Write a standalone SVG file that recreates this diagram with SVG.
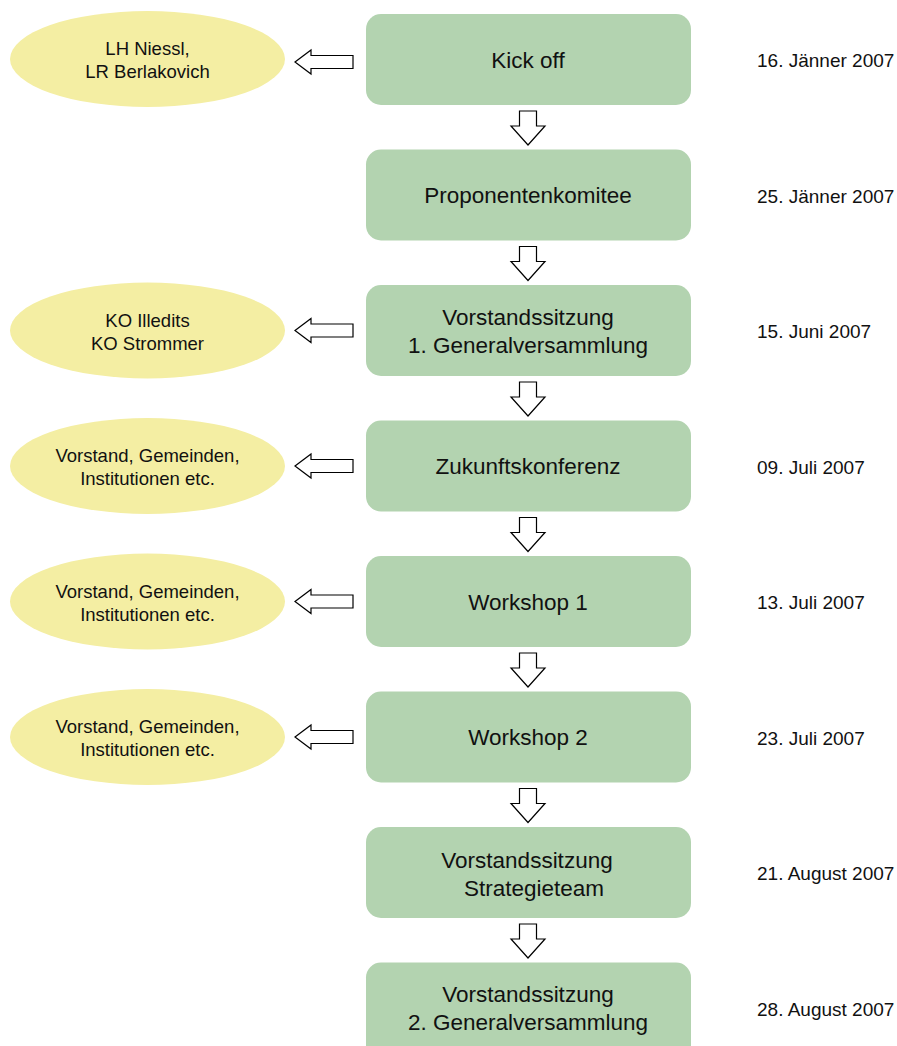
<svg xmlns="http://www.w3.org/2000/svg" width="897" height="1046" viewBox="0 0 897 1046">
<style>
.box{fill:#b3d3b0}
.ell{fill:#f4eea3}
.arr{fill:#fff;stroke:#000;stroke-width:1.2;stroke-linejoin:miter}
.bt{font-family:"Liberation Sans",Arial,sans-serif;font-size:22.5px;fill:#111;text-anchor:middle}
.et{font-family:"Liberation Sans",Arial,sans-serif;font-size:18.5px;fill:#111;text-anchor:middle}
.dt{font-family:"Liberation Sans",Arial,sans-serif;font-size:19px;fill:#111}
</style>
<rect width="897" height="1046" fill="#fff"/>
<g id="connectors">
<path class="arr" d="M295,62 L311,50 L311,55.5 L353,55.5 L353,68.5 L311,68.5 L311,74 Z"/>
<path class="arr" d="M295,330.5 L311,318.5 L311,324 L353,324 L353,337 L311,337 L311,342.5 Z"/>
<path class="arr" d="M295,466 L311,454 L311,459.5 L353,459.5 L353,472.5 L311,472.5 L311,478 Z"/>
<path class="arr" d="M295,601.5 L311,589.5 L311,595 L353,595 L353,608 L311,608 L311,613.5 Z"/>
<path class="arr" d="M295,737 L311,725 L311,730.5 L353,730.5 L353,743.5 L311,743.5 L311,749 Z"/>
<path class="arr" d="M519.5,111 L536.5,111 L536.5,126 L545,126 L528,145 L511,126 L519.5,126 Z"/>
<path class="arr" d="M519.5,246.5 L536.5,246.5 L536.5,261.5 L545,261.5 L528,280.5 L511,261.5 L519.5,261.5 Z"/>
<path class="arr" d="M519.5,382 L536.5,382 L536.5,397 L545,397 L528,416 L511,397 L519.5,397 Z"/>
<path class="arr" d="M519.5,517.5 L536.5,517.5 L536.5,532.5 L545,532.5 L528,551.5 L511,532.5 L519.5,532.5 Z"/>
<path class="arr" d="M519.5,653 L536.5,653 L536.5,668 L545,668 L528,687 L511,668 L519.5,668 Z"/>
<path class="arr" d="M519.5,788.5 L536.5,788.5 L536.5,803.5 L545,803.5 L528,822.5 L511,803.5 L519.5,803.5 Z"/>
<path class="arr" d="M519.5,924 L536.5,924 L536.5,939 L545,939 L528,958 L511,939 L519.5,939 Z"/>
</g>
<g id="n1"><rect class="box" x="366" y="14" width="325" height="91" rx="15"/><text class="bt" x="528" y="67.5">Kick off</text></g>
<g id="n2"><rect class="box" x="366" y="149.5" width="325" height="91" rx="15"/><text class="bt" x="528" y="203">Proponentenkomitee</text></g>
<g id="n3"><rect class="box" x="366" y="285" width="325" height="91" rx="15"/><text class="bt" x="528" y="325">Vorstandssitzung</text><text class="bt" x="528" y="353">1. Generalversammlung</text></g>
<g id="n4"><rect class="box" x="366" y="420.5" width="325" height="91" rx="15"/><text class="bt" x="528" y="474">Zukunftskonferenz</text></g>
<g id="n5"><rect class="box" x="366" y="556" width="325" height="91" rx="15"/><text class="bt" x="528" y="609.5">Workshop 1</text></g>
<g id="n6"><rect class="box" x="366" y="691.5" width="325" height="91" rx="15"/><text class="bt" x="528" y="745">Workshop 2</text></g>
<g id="n7"><rect class="box" x="366" y="827" width="325" height="91" rx="15"/><text class="bt" x="527" y="868">Vorstandssitzung</text><text class="bt" x="534" y="896">Strategieteam</text></g>
<g id="n8"><rect class="box" x="366" y="962.5" width="325" height="100" rx="15"/><text class="bt" x="528" y="1002">Vorstandssitzung</text><text class="bt" x="528" y="1030">2. Generalversammlung</text></g>
<g id="e1"><ellipse class="ell" cx="147.5" cy="59" rx="137.5" ry="48"/><text class="et" x="147.5" y="55">LH Niessl,</text><text class="et" x="147.5" y="78">LR Berlakovich</text></g>
<g id="e2"><ellipse class="ell" cx="147.5" cy="330.5" rx="137.5" ry="48"/><text class="et" x="147.5" y="326.5">KO Illedits</text><text class="et" x="147.5" y="349.5">KO Strommer</text></g>
<g id="e3"><ellipse class="ell" cx="147.5" cy="466" rx="137.5" ry="48"/><text class="et" x="147.5" y="462">Vorstand, Gemeinden,</text><text class="et" x="147.5" y="485">Institutionen etc.</text></g>
<g id="e4"><ellipse class="ell" cx="147.5" cy="601.5" rx="137.5" ry="48"/><text class="et" x="147.5" y="597.5">Vorstand, Gemeinden,</text><text class="et" x="147.5" y="620.5">Institutionen etc.</text></g>
<g id="e5"><ellipse class="ell" cx="147.5" cy="737" rx="137.5" ry="48"/><text class="et" x="147.5" y="733">Vorstand, Gemeinden,</text><text class="et" x="147.5" y="756">Institutionen etc.</text></g>
<g id="dates">
<text class="dt" x="757" y="67">16. Jänner 2007</text>
<text class="dt" x="757" y="203">25. Jänner 2007</text>
<text class="dt" x="757" y="338">15. Juni 2007</text>
<text class="dt" x="757" y="473.5">09. Juli 2007</text>
<text class="dt" x="757" y="609">13. Juli 2007</text>
<text class="dt" x="757" y="744.5">23. Juli 2007</text>
<text class="dt" x="757" y="880">21. August 2007</text>
<text class="dt" x="757" y="1015.5">28. August 2007</text>
</g>
</svg>
